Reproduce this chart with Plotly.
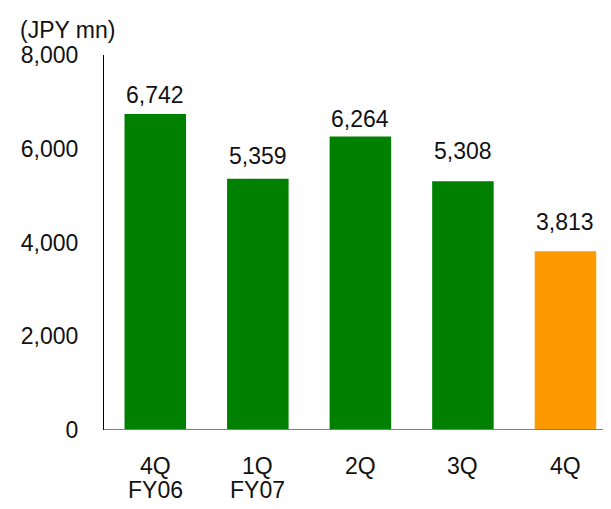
import plotly.graph_objects as go

quarters = ["4Q", "1Q", "2Q", "3Q", "4Q"]
years = ["FY06", "FY07", "", "", ""]
values = [6742, 5359, 6264, 5308, 3813]
colors = ["#008000", "#008000", "#008000", "#008000", "#FF9900"]
y_ticks = [0, 2000, 4000, 6000, 8000]
y_ticklabels = ["0", "2,000", "4,000", "6,000", "8,000"]
label_offsets = [19, 23, 17, 30, 29]  # px gap from bar top to value label centre

font = "Liberation Sans, Arial, sans-serif"
fsize = 23
tcolor = "#111111"
x = list(range(len(quarters)))

fig = go.Figure(go.Bar(
    x=x, y=values, marker=dict(color=colors, line=dict(width=0)),
    width=0.6,
))

for xi, v, off in zip(x, values, label_offsets):
    fig.add_annotation(x=xi, y=v, text=f"{v:,}", showarrow=False,
                       yanchor="middle", yshift=off,
                       font=dict(family=font, size=fsize, color=tcolor))

for xi, q, yr in zip(x, quarters, years):
    fig.add_annotation(x=xi, xref="x", yref="paper", y=0, text=q, showarrow=False,
                       yanchor="middle", yshift=-36,
                       font=dict(family=font, size=fsize, color=tcolor))
    if yr:
        fig.add_annotation(x=xi, xref="x", yref="paper", y=0, text=yr, showarrow=False,
                           yanchor="middle", yshift=-60,
                           font=dict(family=font, size=fsize, color=tcolor))

fig.add_annotation(xref="paper", yref="paper", x=-0.17, y=1.0, yshift=25,
                   xanchor="left", yanchor="middle", text="(JPY mn)",
                   showarrow=False, font=dict(family=font, size=fsize, color=tcolor))

fig.update_layout(
    width=611, height=509,
    margin=dict(l=96, r=8, t=47, b=87),
    plot_bgcolor="white", paper_bgcolor="white",
    showlegend=False,
    xaxis=dict(range=[-0.5, 4.444], tickmode="array", tickvals=x,
               showticklabels=False, automargin=False,
               showgrid=False, zeroline=False, showline=False, ticks=""),
    yaxis=dict(range=[0, 8000], tickmode="array", tickvals=y_ticks, ticktext=y_ticklabels,
               automargin=False,
               showgrid=False, zeroline=False, showline=True, linecolor="black", linewidth=1,
               ticks="outside", ticklen=20, tickcolor="rgba(0,0,0,0)",
               tickfont=dict(family=font, size=fsize, color=tcolor)),
)

fig.add_shape(type="line", xref="paper", yref="y", x0=0, x1=1.03, y0=0, y1=0,
              line=dict(color="#808080", width=2))

fig.write_html("out.html")
